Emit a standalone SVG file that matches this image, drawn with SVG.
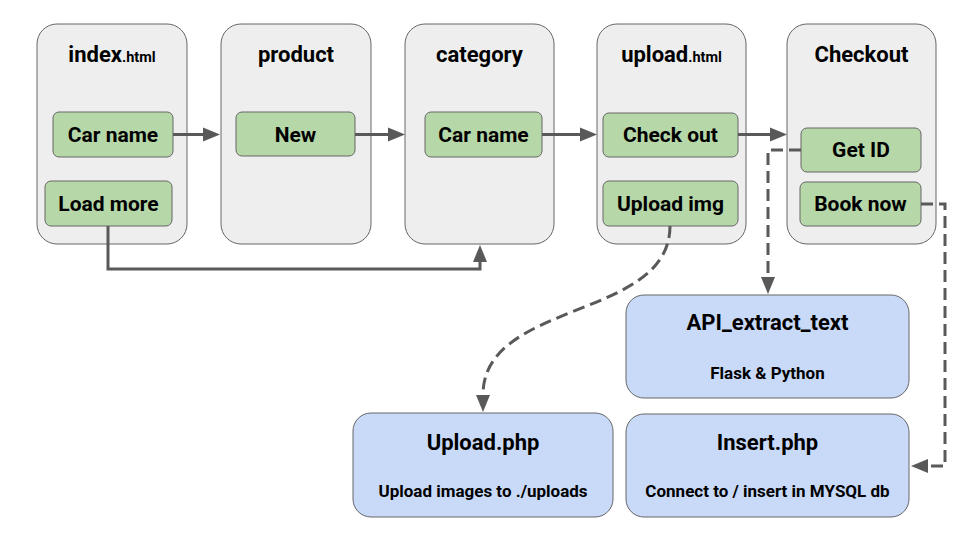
<svg xmlns="http://www.w3.org/2000/svg" width="960" height="540" viewBox="0 0 960 540">
<defs>
<style>
.page{fill:#eeeeee;stroke:#666666;stroke-width:1}
.btn{fill:#b6d7a8;stroke:#666666;stroke-width:1}
.svc{fill:#c9daf8;stroke:#666666;stroke-width:1}
text{font-family:Roboto,"Liberation Sans",sans-serif;font-weight:bold;fill:#000000;text-anchor:middle}
.t{font-size:22px}
.s{font-size:14.5px}
.b{font-size:21px}
.st{font-size:17px}
.c{fill:none;stroke:#595959;stroke-width:3}
.d{stroke-dasharray:12 6}
</style>
<marker id="ah" markerUnits="userSpaceOnUse" markerWidth="18" markerHeight="14" refX="0" refY="7" orient="auto" overflow="visible">
<path d="M0,0 L17,7 L0,14 Z" fill="#595959"/>
</marker>
</defs>
<rect width="960" height="540" fill="#ffffff"/>
<g id="page-index">
<rect class="page" x="37" y="24" width="150" height="220" rx="20"/>
<text class="t" x="112" y="62">index<tspan class="s">.html</tspan></text>
</g>
<g id="page-product">
<rect class="page" x="221" y="24" width="150" height="220" rx="20"/>
<text class="t" x="296" y="62">product</text>
</g>
<g id="page-category">
<rect class="page" x="405" y="24" width="149" height="220" rx="20"/>
<text class="t" x="479.5" y="62">category</text>
</g>
<g id="page-upload">
<rect class="page" x="597" y="24" width="149" height="220" rx="20"/>
<text class="t" x="671.5" y="62">upload<tspan class="s">.html</tspan></text>
</g>
<g id="page-checkout">
<rect class="page" x="787" y="24" width="149" height="220" rx="20"/>
<text class="t" x="861.5" y="62">Checkout</text>
</g>
<g id="btn-index-carname">
<rect class="btn" x="53" y="112" width="120" height="45" rx="6"/>
<text class="b" x="113" y="142">Car name</text>
</g>
<g id="btn-loadmore">
<rect class="btn" x="45" y="181" width="127" height="45" rx="6"/>
<text class="b" x="108.5" y="211">Load more</text>
</g>
<g id="btn-new">
<rect class="btn" x="236" y="112" width="119" height="44" rx="6"/>
<text class="b" x="295.5" y="142">New</text>
</g>
<g id="btn-category-carname">
<rect class="btn" x="425" y="112" width="117" height="45" rx="6"/>
<text class="b" x="483.5" y="142">Car name</text>
</g>
<g id="btn-checkout">
<rect class="btn" x="603" y="113" width="135" height="44" rx="6"/>
<text class="b" x="670.5" y="142">Check out</text>
</g>
<g id="btn-uploadimg">
<rect class="btn" x="603" y="181" width="135" height="45" rx="6"/>
<text class="b" x="670.5" y="211">Upload img</text>
</g>
<g id="btn-getid">
<rect class="btn" x="801" y="128" width="120" height="44" rx="6"/>
<text class="b" x="861" y="157">Get ID</text>
</g>
<g id="btn-booknow">
<rect class="btn" x="800" y="182" width="121" height="44" rx="6"/>
<text class="b" x="860.5" y="211">Book now</text>
</g>
<g id="svc-api">
<rect class="svc" x="626" y="295" width="283" height="103" rx="18"/>
<text class="t" x="767.5" y="330">API_extract_text</text>
<text class="st" x="767.5" y="379">Flask &amp; Python</text>
</g>
<g id="svc-upload">
<rect class="svc" x="353" y="413" width="260" height="104" rx="18"/>
<text class="t" x="483" y="450">Upload.php</text>
<text class="st" x="483" y="497">Upload images to ./uploads</text>
</g>
<g id="svc-insert">
<rect class="svc" x="626" y="414" width="283" height="103" rx="18"/>
<text class="t" x="767.5" y="450">Insert.php</text>
<text class="st" x="767.5" y="497">Connect to / insert in MYSQL db</text>
</g>
<g id="connectors">
<path class="c" d="M173,134.5 H203" marker-end="url(#ah)"/>
<path class="c" d="M355,134.5 H388" marker-end="url(#ah)"/>
<path class="c" d="M542,134.5 H580" marker-end="url(#ah)"/>
<path class="c" d="M738,134.5 H770" marker-end="url(#ah)"/>
<path class="c" d="M108,226 V269 H480 V262" marker-end="url(#ah)"/>
<path class="c d" d="M801,150 H768 V277" marker-end="url(#ah)"/>
<path class="c d" d="M921,204 H945 V466 H928" marker-end="url(#ah)"/>
<path class="c d" d="M670,226 C670,320 483,300 483,395" marker-end="url(#ah)"/>
</g>
</svg>
